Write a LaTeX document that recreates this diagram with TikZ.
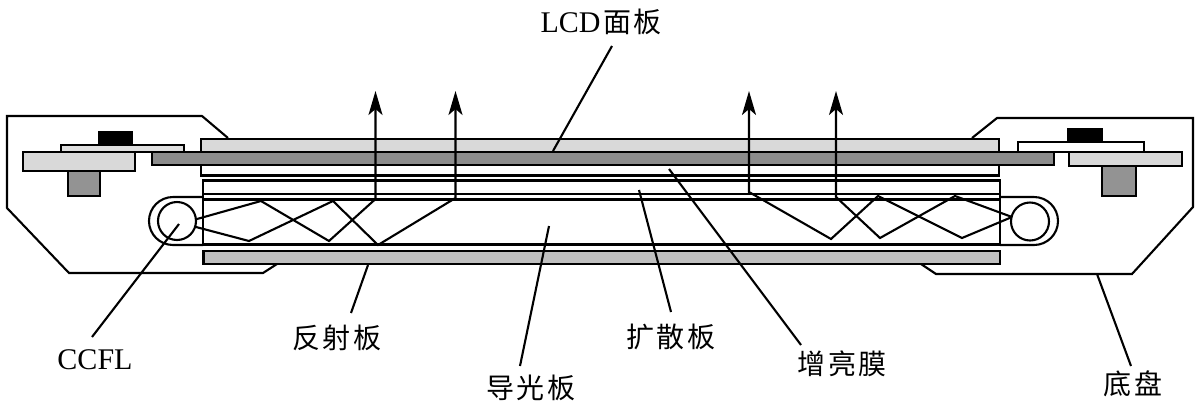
\documentclass[tikz,border=0pt]{standalone}
\usepackage{fontspec}
\setmainfont{Liberation Serif}
\newfontfamily\cjk{Noto Sans CJK SC}
\usetikzlibrary{arrows.meta}
\tikzset{
  x=1pt,y=-1pt,
  part/.style={draw=black,line width=2.1pt,line join=miter},
  ray/.style={draw=black,line width=2.1pt,line join=miter},
  lead/.style={draw=black,line width=2.1pt},
  up/.style={ray,-{Stealth[length=24pt,width=14pt,inset=6pt]}},
  lab/.style={inner sep=0pt,font=\fontsize{28}{28}\selectfont},
  lamp/.style={circle,draw,line width=2.1pt,minimum size=38pt,inner sep=0pt}
}
\newcommand{\gp}{\hspace{2.5pt}}
\begin{document}
\begin{tikzpicture}
\useasboundingbox (0,0) rectangle (1200,408);
\fill[white] (0,0) rectangle (1200,408);
% chassis
\draw[part] (228,138) -- (202,116) -- (7,116) -- (7,208) -- (69,273) -- (263,273) -- (277,264);
\draw[part] (972,138) -- (997,118) -- (1193,118) -- (1193,207) -- (1132,274) -- (936,274) -- (921,264);
% left mount
\filldraw[part,fill=black] (99,132) rectangle (132,145);
\filldraw[part,fill=gray!25] (61,145) rectangle (184,152);
\filldraw[part,fill=gray!30] (23,152) rectangle (135,171);
\filldraw[part,fill=gray!85] (68,171) rectangle (100,196);
% right mount
\filldraw[part,fill=black] (1068,129) rectangle (1102,142);
\filldraw[part,fill=white] (1018,142) rectangle (1144,152);
\filldraw[part,fill=gray!30] (1069,152) rectangle (1182,166);
\filldraw[part,fill=gray!85] (1102,166) rectangle (1136,196);
% stack
\filldraw[part,fill=gray!30] (201,139) rectangle (999,152);
\filldraw[part,fill=white] (201,165) rectangle (999,175.5);
\filldraw[part,fill=gray!90] (152,152) rectangle (1054,165);
\filldraw[part,fill=white] (203,180.5) rectangle (1000,194);
\filldraw[part,fill=white] (203,194) rectangle (1000,199.5);
\draw[part] (203,199.5) -- (203,244.5) -- (1000,244.5) -- (1000,199.5);
\filldraw[part,fill=gray!50] (203.5,251) rectangle (1000,264);
% lamps
\draw[part] (203,197) -- (173,197) arc[start angle=-90,end angle=-270,radius=24] -- (203,245);
\draw[part] (1000,197) -- (1034,197) arc[start angle=-90,end angle=90,radius=24] -- (1000,245);
\node[lamp] (lampL) at (177,221) {};
\node[lamp] (lampR) at (1030,221.5) {};
% rays
\draw[up] (197,219) -- (261,201) -- (329,241) -- (375.5,199) -- (375.5,91);
\draw[up] (196,227) -- (249,241) -- (333,201) -- (378,245) -- (455.5,198) -- (455.5,91);
\draw[up] (1012,217) -- (962,238) -- (878,196) -- (831,239) -- (749,192) -- (749,91);
\draw[up] (1012,217) -- (955,196) -- (880,238) -- (836,197) -- (836,91);
% labels
\node[lab] (lcd) at (601,22) {\fontsize{30}{30}\selectfont LCD{\fontsize{28}{28}\selectfont\cjk \gp 面\gp 板}};
\node[lab] (ccfl) at (95,360) {\fontsize{30}{30}\selectfont CCFL};
\node[lab] (fsb) at (337,338) {\cjk 反\gp 射\gp 板};
\node[lab] (dgb) at (531,388) {\cjk 导\gp 光\gp 板};
\node[lab] (ksb) at (671,337) {\cjk 扩\gp 散\gp 板};
\node[lab] (zlm) at (842,364) {\cjk 增\gp 亮\gp 膜};
\node[lab] (dp) at (1133,384) {\cjk 底\gp 盘};
% leaders
\coordinate (a1) at (553,151);
\coordinate (a2) at (612,46);
\draw[lead] (a1) -- (a2);
\coordinate (b1) at (669,169);
\coordinate (b2) at (801,345);
\draw[lead] (b1) -- (b2);
\coordinate (c1) at (639,190);
\coordinate (c2) at (671,312);
\draw[lead] (c1) -- (c2);
\coordinate (d1) at (549,226);
\coordinate (d2) at (520,366);
\draw[lead] (d1) -- (d2);
\coordinate (e1) at (368,265);
\coordinate (e2) at (351,313);
\draw[lead] (e1) -- (e2);
\coordinate (f1) at (179,224);
\coordinate (f2) at (92,337);
\draw[lead] (f1) -- (f2);
\coordinate (g1) at (1097,274);
\coordinate (g2) at (1131,366);
\draw[lead] (g1) -- (g2);
\end{tikzpicture}
\end{document}
